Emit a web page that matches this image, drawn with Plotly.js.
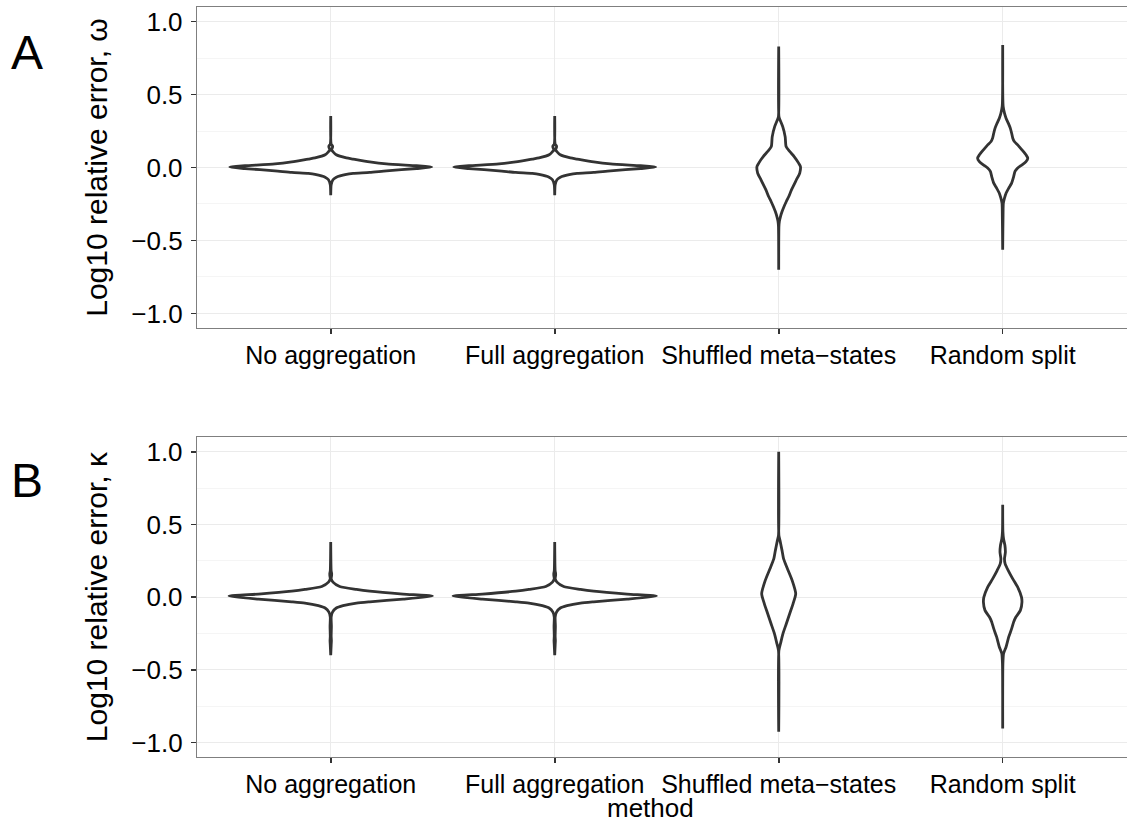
<!DOCTYPE html>
<html>
<head>
<meta charset="utf-8">
<script src="https://cdn.plot.ly/plotly-3.0.1.min.js"></script>
<style>
  html, body { margin: 0; padding: 0; background: #ffffff; overflow: hidden; }
</style>
</head>
<body>
<div id="chart" style="width:1127px;height:832px;"></div>
<script>
// Methods compared on the x axis
const methods = ["No aggregation", "Full aggregation", "Shuffled meta\u2212states", "Random split"];
const yTickVals = [-1, -0.5, 0, 0.5, 1];
const yTickText = ["\u22121.0", "\u22120.5", "0.0", "0.5", "1.0"];

// Violin outlines: log10 relative error levels and the violin half-width
// (in units of category spacing) at each level.

// Panel A: omega
const omegaNoAggY   = [-0.19, -0.118, -0.084, -0.066, -0.047, -0.041, -0.034, -0.023, -0.007, 0.003, 0.012, 0.025, 0.039, 0.058, 0.066, 0.087, 0.121, 0.138, 0.148, 0.16, 0.353];
const omegaNoAggW   = [0, 0.002, 0.01, 0.025, 0.07, 0.1, 0.174, 0.249, 0.383, 0.451, 0.383, 0.249, 0.174, 0.1, 0.07, 0.025, 0.004, 0.008, 0.008, 0.002, 0];
const omegaFullAggY = [-0.19, -0.118, -0.084, -0.066, -0.047, -0.041, -0.034, -0.023, -0.007, 0.003, 0.012, 0.025, 0.039, 0.058, 0.066, 0.087, 0.121, 0.138, 0.148, 0.16, 0.353];
const omegaFullAggW = [0, 0.002, 0.01, 0.025, 0.07, 0.1, 0.174, 0.249, 0.383, 0.451, 0.383, 0.249, 0.174, 0.1, 0.07, 0.025, 0.004, 0.008, 0.008, 0.002, 0];
const omegaShuffY   = [-0.70, -0.404, -0.37, -0.336, -0.302, -0.267, -0.233, -0.199, -0.153, -0.119, -0.084, -0.038, 0.007, 0.03, 0.075, 0.11, 0.144, 0.21, 0.28, 0.33, 0.35, 0.829];
const omegaShuffW   = [0, 0.001, 0.003, 0.008, 0.015, 0.024, 0.034, 0.045, 0.057, 0.068, 0.079, 0.094, 0.097, 0.089, 0.069, 0.049, 0.033, 0.029, 0.018, 0.005, 0.001, 0];
const omegaRandY    = [-0.564, -0.28, -0.244, -0.21, -0.176, -0.141, -0.107, -0.062, -0.027, -0.004, 0.018, 0.041, 0.064, 0.087, 0.121, 0.155, 0.178, 0.201, 0.235, 0.27, 0.304, 0.338, 0.372, 0.42, 0.84];
const omegaRandW    = [0, 0.002, 0.003, 0.008, 0.015, 0.027, 0.04, 0.049, 0.055, 0.067, 0.086, 0.104, 0.112, 0.104, 0.086, 0.067, 0.052, 0.045, 0.04, 0.034, 0.025, 0.015, 0.008, 0.002, 0];

// Panel B: kappa
const kappaNoAggY   = [-0.40, -0.33, -0.3, -0.27, -0.2, -0.137, -0.103, -0.075, -0.059, -0.041, -0.032, -0.014, 0.007, 0.021, 0.041, 0.053, 0.073, 0.103, 0.126, 0.15, 0.165, 0.18, 0.38];
const kappaNoAggW   = [0, 0.002, 0.003, 0.002, 0.003, 0.002, 0.008, 0.025, 0.055, 0.115, 0.174, 0.323, 0.454, 0.323, 0.174, 0.115, 0.04, 0.01, 0.002, 0.004, 0.004, 0.002, 0];
const kappaFullAggY = [-0.40, -0.33, -0.3, -0.27, -0.2, -0.137, -0.103, -0.075, -0.059, -0.041, -0.032, -0.014, 0.007, 0.021, 0.041, 0.053, 0.073, 0.103, 0.126, 0.15, 0.165, 0.18, 0.38];
const kappaFullAggW = [0, 0.002, 0.003, 0.002, 0.003, 0.002, 0.008, 0.025, 0.055, 0.115, 0.174, 0.323, 0.454, 0.323, 0.174, 0.115, 0.04, 0.01, 0.002, 0.004, 0.004, 0.002, 0];
const kappaShuffY   = [-0.926, -0.366, -0.32, -0.251, -0.183, -0.114, -0.046, 0.023, 0.115, 0.195, 0.263, 0.32, 0.389, 0.423, 1.0];
const kappaShuffW   = [0, 0.001, 0.008, 0.019, 0.034, 0.049, 0.064, 0.076, 0.06, 0.039, 0.022, 0.015, 0.006, 0.001, 0];
const kappaRandY    = [-0.903, -0.457, -0.388, -0.343, -0.274, -0.217, -0.171, -0.137, -0.091, -0.034, 0, 0.069, 0.126, 0.183, 0.229, 0.263, 0.309, 0.355, 0.4, 0.45, 0.636];
const kappaRandW    = [0, 0.001, 0.004, 0.015, 0.027, 0.04, 0.049, 0.059, 0.079, 0.086, 0.084, 0.067, 0.045, 0.025, 0.011, 0.008, 0.012, 0.01, 0.004, 0.001, 0];

const panels = [
  { xa: "x",  ya: "y",  shapes: [[omegaNoAggY, omegaNoAggW], [omegaFullAggY, omegaFullAggW], [omegaShuffY, omegaShuffW], [omegaRandY, omegaRandW]] },
  { xa: "x2", ya: "y2", shapes: [[kappaNoAggY, kappaNoAggW], [kappaFullAggY, kappaFullAggW], [kappaShuffY, kappaShuffW], [kappaRandY, kappaRandW]] }
];

// Closed outline: right side upwards, left side back down
function violinTrace(pos, ys, ws, xa, ya) {
  const x = [], y = [];
  for (let i = 0; i < ys.length; i++) { x.push(pos + ws[i]); y.push(ys[i]); }
  for (let i = ys.length - 1; i >= 0; i--) { x.push(pos - ws[i]); y.push(ys[i]); }
  x.push(x[0]); y.push(y[0]);
  return {
    type: "scatter", mode: "lines", x: x, y: y, xaxis: xa, yaxis: ya,
    fill: "toself", fillcolor: "#ffffff",
    line: { color: "#333333", width: 2.8, shape: "spline", smoothing: 0.6 },
    hoverinfo: "skip", showlegend: false
  };
}

const traces = [];
panels.forEach(p => {
  p.shapes.forEach((s, i) => traces.push(violinTrace(i + 1, s[0], s[1], p.xa, p.ya)));
});

const FONT = "Liberation Sans, Arial, Helvetica, sans-serif";
const tickFont = { family: FONT, size: 25, color: "#000000" };

function xAxis(anchor) {
  return {
    anchor: anchor, domain: [0, 1], range: [0.403, 4.555],
    tickmode: "array", tickvals: [1, 2, 3, 4], ticktext: methods,
    showgrid: true, gridcolor: "#ebebeb", gridwidth: 1.1, zeroline: false,
    showline: true, mirror: true, linecolor: "#7f7f7f", linewidth: 1.2,
    ticks: "outside", ticklen: 5, tickwidth: 1.6, tickcolor: "#333333",
    tickfont: tickFont, ticklabelstandoff: 0, fixedrange: true
  };
}
function yAxis(anchor, domain, title) {
  return {
    anchor: anchor, domain: domain, range: [-1.1, 1.1],
    tickmode: "array", tickvals: yTickVals, ticktext: yTickText,
    showgrid: true, gridcolor: "#ebebeb", gridwidth: 1.1, zeroline: false,
    minor: { tickmode: "array", tickvals: [-0.75, -0.25, 0.25, 0.75], showgrid: true, gridcolor: "#f5f5f5", gridwidth: 1, ticks: "" },
    showline: true, mirror: false, linecolor: "#7f7f7f", linewidth: 1.2,
    ticks: "outside", ticklen: 5, tickwidth: 1.6, tickcolor: "#333333",
    tickfont: { family: FONT, size: 26, color: "#000000" }, ticklabelstandoff: 3,
    title: { text: title, font: { family: FONT, size: 30, color: "#000000" }, standoff: 14 },
    fixedrange: true
  };
}

const layout = {
  width: 1127, height: 832,
  margin: { l: 197, r: 0, t: 7, b: 75 },
  paper_bgcolor: "#ffffff", plot_bgcolor: "#ffffff",
  showlegend: false,
  xaxis: xAxis("y"),
  yaxis: yAxis("x", [0.572, 1], "Log10 relative error, \u03c9"),
  xaxis2: xAxis("y2"),
  yaxis2: yAxis("x2", [0, 0.4263], "Log10 relative error, \u03ba"),
  annotations: [
    { text: "A", xref: "paper", yref: "paper", x: -0.1831, y: 0.9393, xanchor: "center", yanchor: "middle", showarrow: false, font: { family: FONT, size: 48, color: "#000000" } },
    { text: "B", xref: "paper", yref: "paper", x: -0.1831, y: 0.369, xanchor: "center", yanchor: "middle", showarrow: false, font: { family: FONT, size: 48, color: "#000000" } },
    { text: "method", xref: "paper", yref: "paper", x: 0.4876, y: -0.068, xanchor: "center", yanchor: "middle", showarrow: false, font: { family: FONT, size: 26, color: "#000000" } }
  ]
};

Plotly.newPlot("chart", traces, layout, { displayModeBar: false, staticPlot: true });
</script>
</body>
</html>
